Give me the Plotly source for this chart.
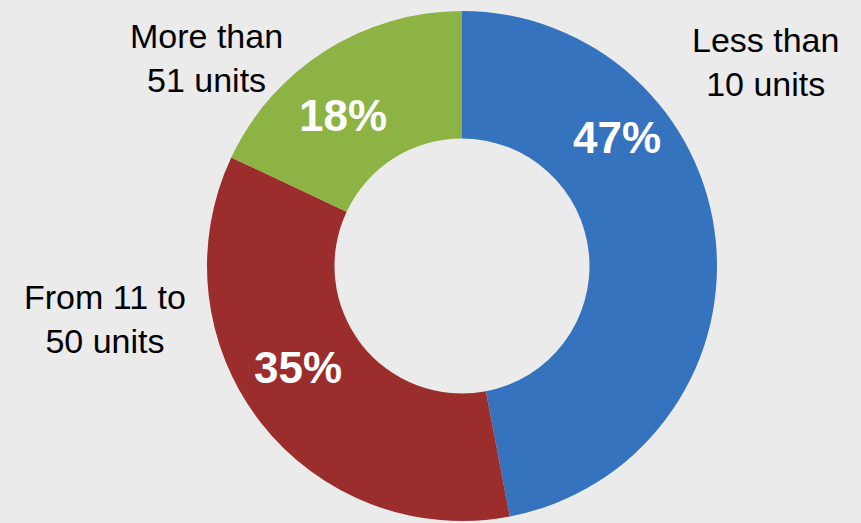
import plotly.graph_objects as go

categories = ["Less than<br>10 units", "From 11 to<br>50 units", "More than<br>51 units"]
values = [47, 35, 18]
colors = ["#3673bf", "#9c2d2d", "#8db344"]

# label placement (paper coords) for outside category labels and inside percentages
cat_pos = [(765 / 861, 1 - 62 / 523), (105 / 861, 1 - 319 / 523), (206 / 861, 1 - 58 / 523)]
pct_pos = [(617 / 861, 1 - 137 / 523), (298 / 861, 1 - 367 / 523), (343 / 861, 1 - 115 / 523)]

W, H = 861, 523
cx, cy, r = 462, 266, 255

fig = go.Figure(go.Pie(
    labels=categories,
    values=values,
    hole=0.5,
    sort=False,
    direction="clockwise",
    rotation=0,
    marker=dict(colors=colors, line=dict(width=0)),
    textinfo="none",
    hoverinfo="label+percent",
    showlegend=False,
    domain=dict(x=[(cx - r) / W, (cx + r) / W], y=[(H - cy - r) / H, (H - cy + r) / H]),
))

total = sum(values)
annotations = []
for lab, (x, y) in zip(categories, cat_pos):
    annotations.append(dict(x=x, y=y, xref="paper", yref="paper", text=lab, showarrow=False,
                            font=dict(family="Liberation Sans, Arial, sans-serif", size=34, color="#000000"),
                            xanchor="center", yanchor="middle", align="center"))
for v, (x, y) in zip(values, pct_pos):
    annotations.append(dict(x=x, y=y, xref="paper", yref="paper", text=f"{round(100 * v / total)}%",
                            showarrow=False,
                            font=dict(family="Liberation Sans, Arial, sans-serif", size=44, color="#ffffff", weight="bold"),
                            xanchor="center", yanchor="middle"))

fig.update_layout(
    width=W, height=H,
    margin=dict(l=0, r=0, t=0, b=0),
    paper_bgcolor="#ebebeb",
    plot_bgcolor="#ebebeb",
    annotations=annotations,
)

fig.write_html("out.html", config={"displayModeBar": False},
               post_script="document.body.style.margin='0';document.body.style.background='#ebebeb';")
